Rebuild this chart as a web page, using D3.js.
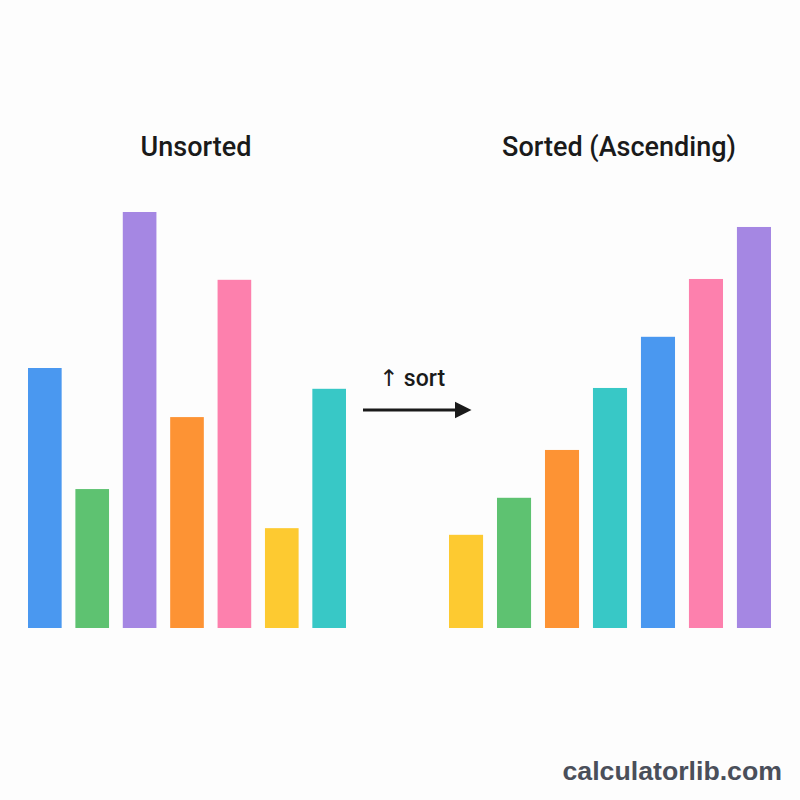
<!DOCTYPE html>
<html>
<head>
<meta charset="utf-8">
<script src="https://cdn.jsdelivr.net/npm/d3@7"></script>
<style>
  html, body { margin: 0; padding: 0; background: #fdfdfd; }
  svg { display: block; }
</style>
</head>
<body>
<script>
// 未排序的資料(左邊)
const unsortedNames = ['blue', 'green', 'purple', 'orange', 'pink', 'yellow', 'teal'];
const unsortedValues = [62.5, 33.4, 100, 50.7, 83.7, 24, 57.5];
// 排序後的資料(右邊),數值照圖上讀
const sortedNames = ['yellow', 'green', 'orange', 'teal', 'blue', 'pink', 'purple'];
const sortedValues = [22.4, 31.3, 42.8, 57.7, 70, 83.9, 96.4];

const colors = {
    blue: '#4a98f0', green: '#5ec271', purple: '#a587e3', orange: '#fd9334',
    pink: '#fd80ad', yellow: '#fdca31', teal: '#38c8c6'
};

const width = 800, height = 800;
const baseY = 628;

const svg = d3.select('body').append('svg')
    .attr('width', width).attr('height', height);

svg.append('rect').attr('width', width).attr('height', height).attr('fill', '#fdfdfd');

const yScale = d3.scaleLinear().domain([0, 100]).range([baseY, 212]);

function drawGroup(names, values, x0, x1, title, titleX) {
    const data = names.map((n, i) => ({ name: n, value: values[i] }));
    const xScale = d3.scaleBand()
        .domain(data.map((d, i) => i))
        .range([x0, x1]).paddingInner(0.29).paddingOuter(0);

    const g = svg.append('g');
    g.selectAll('rect')
        .data(data)
        .enter()
        .append('rect')
        .attr('x', (d, i) => xScale(i))
        .attr('y', d => yScale(d.value))
        .attr('width', xScale.bandwidth())
        .attr('height', d => baseY - yScale(d.value))
        .attr('fill', d => colors[d.name]);

    g.append('text')
        .attr('x', titleX).attr('y', 156)
        .attr('text-anchor', 'middle')
        .style('font-family', 'Roboto, "Liberation Sans", sans-serif')
        .style('font-weight', 500)
        .style('font-size', '27px')
        .style('fill', '#1a1a1a')
        .text(title);
}

drawGroup(unsortedNames, unsortedValues, 28, 346, 'Unsorted', 196);
drawGroup(sortedNames, sortedValues, 449, 771, 'Sorted (Ascending)', 619);

// 中間的箭頭
svg.append('defs').append('marker')
    .attr('id', 'head')
    .attr('viewBox', '0 0 10 10')
    .attr('refX', 0).attr('refY', 5)
    .attr('markerWidth', 5.5).attr('markerHeight', 6.5)
    .attr('markerUnits', 'strokeWidth')
    .attr('orient', 'auto')
    .append('path').attr('d', 'M0,0 L10,5 L0,10 Z').attr('fill', '#1a1a1a');

svg.append('line')
    .attr('x1', 363).attr('y1', 410)
    .attr('x2', 455).attr('y2', 410)
    .attr('stroke', '#1a1a1a').attr('stroke-width', 3)
    .attr('marker-end', 'url(#head)');

const sortLabel = svg.append('text')
    .attr('x', 412).attr('y', 386)
    .attr('text-anchor', 'middle')
    .style('font-family', 'Roboto, "Liberation Sans", sans-serif')
    .style('font-weight', 500)
    .style('font-size', '23px')
    .style('fill', '#1a1a1a');
sortLabel.append('tspan').style('font-family', '"DejaVu Sans", sans-serif').text('↑');
sortLabel.append('tspan').text(' sort');

// 浮水印
svg.append('text')
    .attr('x', 782).attr('y', 780)
    .attr('text-anchor', 'end')
    .style('font-family', '"Liberation Sans", Arial, sans-serif')
    .style('font-weight', 700)
    .style('font-size', '26.7px')
    .style('fill', '#4a4f5a')
    .text('calculatorlib.com');
</script>
</body>
</html>
